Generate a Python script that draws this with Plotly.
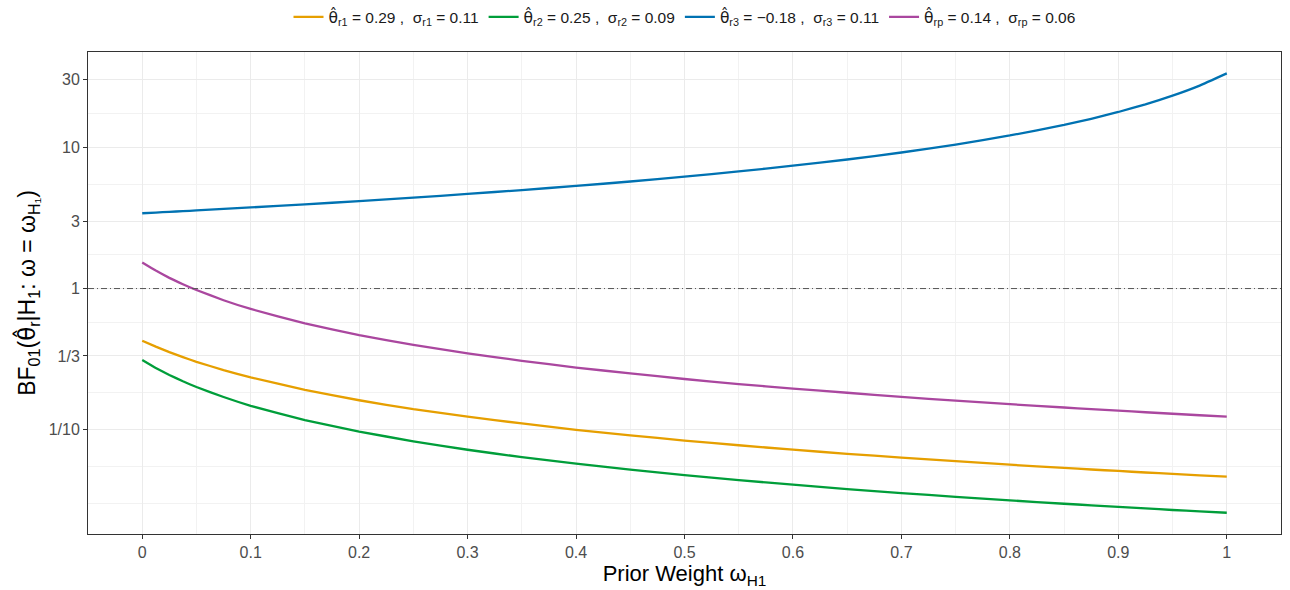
import plotly.graph_objects as go

# prior weight omega_H1 (x values)
omega = [0, 0.0125, 0.025, 0.0375, 0.05, 0.075, 0.1, 0.15, 0.2, 0.25, 0.3, 0.35, 0.4, 0.45, 0.5,
         0.55, 0.6, 0.65, 0.7, 0.75, 0.8, 0.85, 0.875, 0.9, 0.925, 0.95, 0.975, 1.0]

# BF01 values
bf_r1 = [0.427, 0.388, 0.355, 0.327, 0.303, 0.265, 0.235, 0.192, 0.162, 0.140, 0.124, 0.111, 0.100, 0.0914,
         0.0840, 0.0778, 0.0724, 0.0677, 0.0636, 0.0600, 0.0567, 0.0538, 0.0524, 0.0512, 0.0499, 0.0488, 0.0477, 0.0466]
bf_r2 = [0.312, 0.274, 0.2445, 0.2206, 0.201, 0.1707, 0.148, 0.117, 0.0972, 0.0830, 0.0723, 0.0641, 0.0576, 0.0523,
         0.0478, 0.0441, 0.0409, 0.0381, 0.0357, 0.0336, 0.0317, 0.0300, 0.02926, 0.0285, 0.02782, 0.0271, 0.02651, 0.0259]
bf_r3 = [3.41, 3.45, 3.49, 3.53, 3.57, 3.66, 3.75, 3.94, 4.16, 4.40, 4.67, 4.98, 5.32, 5.72,
         6.19, 6.74, 7.40, 8.19, 9.18, 10.44, 12.11, 14.39, 15.9, 17.76, 20.1, 23.17, 27.3, 33.3]
bf_rp = [1.53, 1.34, 1.19, 1.073, 0.976, 0.827, 0.717, 0.566, 0.468, 0.399, 0.348, 0.308, 0.276, 0.251,
         0.229, 0.211, 0.196, 0.183, 0.171, 0.161, 0.152, 0.144, 0.140, 0.137, 0.1332, 0.130, 0.1269, 0.124]

HAT = '<span style="font-family:DejaVu Sans">θ̂</span>'
series_names = [
    HAT + "<sub>r1</sub> = 0.29 ,  σ<sub>r1</sub> = 0.11",
    HAT + "<sub>r2</sub> = 0.25 ,  σ<sub>r2</sub> = 0.09",
    HAT + "<sub>r3</sub> = −0.18 ,  σ<sub>r3</sub> = 0.11",
    HAT + "<sub>rp</sub> = 0.14 ,  σ<sub>rp</sub> = 0.06",
]
series_values = [bf_r1, bf_r2, bf_r3, bf_rp]
series_colors = ["#E69F00", "#009E3A", "#0072B2", "#AA479F"]

y_tickvals = [30, 10, 3, 1, 1/3, 1/10]
y_ticktext = ["30", "10", "3", "1", "1/3", "1/10"]
x_tickvals = [0, 0.1, 0.2, 0.3, 0.4, 0.5, 0.6, 0.7, 0.8, 0.9, 1]
x_ticktext = ["0", "0.1", "0.2", "0.3", "0.4", "0.5", "0.6", "0.7", "0.8", "0.9", "1"]

FONT = "Liberation Sans, Arial, sans-serif"

fig = go.Figure()
for name, vals, col in zip(series_names, series_values, series_colors):
    fig.add_trace(go.Scatter(x=omega, y=vals, mode="lines", name=name,
                             line=dict(color=col, width=2.3, shape="spline", smoothing=0.3)))

fig.add_hline(y=1, line=dict(color="#555555", width=1, dash="6px,3px,1px,3px"))

minor_y = [17.32, 5.477, 1.732, 0.577, 0.1826, 0.0548, 0.0300]

fig.update_layout(
    width=1290, height=590,
    margin=dict(l=88, r=9, t=52, b=56, autoexpand=False),
    paper_bgcolor="white", plot_bgcolor="white",
    font=dict(family=FONT, color="#4D4D4D"),
    showlegend=True,
    legend=dict(orientation="h", x=0.5, xanchor="center", y=1.072, yanchor="middle",
                font=dict(size=15.5, color="#1A1A1A", family=FONT), itemwidth=30,
                bgcolor="rgba(0,0,0,0)", tracegroupgap=0),
    xaxis=dict(range=[-0.05, 1.05], tickmode="array", tickvals=x_tickvals, ticktext=x_ticktext,
               showgrid=True, gridcolor="#EBEBEB", gridwidth=1,
               minor=dict(dtick=0.05, tick0=0, showgrid=True, gridcolor="#F2F2F2", gridwidth=1, ticks=""),
               ticks="outside", ticklen=4, tickcolor="#333333", tickwidth=1,
               tickfont=dict(size=16, color="#4D4D4D"),
               showline=True, linecolor="#333333", linewidth=1, mirror=True, zeroline=False,
               title=dict(text="Prior Weight ω<sub>H1</sub>", font=dict(size=22, color="black"), standoff=4)),
    yaxis=dict(type="log", range=[-1.737, 1.674], tickmode="array", tickvals=y_tickvals, ticktext=y_ticktext,
               showgrid=True, gridcolor="#EBEBEB", gridwidth=1,
               minor=dict(tickmode="array", tickvals=minor_y, showgrid=True, gridcolor="#F2F2F2", gridwidth=1, ticks=""),
               ticks="outside", ticklen=4, tickcolor="#333333", tickwidth=1,
               tickfont=dict(size=16, color="#4D4D4D"),
               showline=True, linecolor="#333333", linewidth=1, mirror=True, zeroline=False,
               title=dict(text="BF<sub>01</sub>(" + HAT + "<sub>r</sub>|H<sub>1</sub>: ω = ω<sub>H₁</sub>)",
                          font=dict(size=23, color="black"), standoff=6)),
)

fig.write_html("out.html", config={"displayModeBar": False},
               post_script="document.body.style.margin='0';document.body.style.overflow='hidden';")
